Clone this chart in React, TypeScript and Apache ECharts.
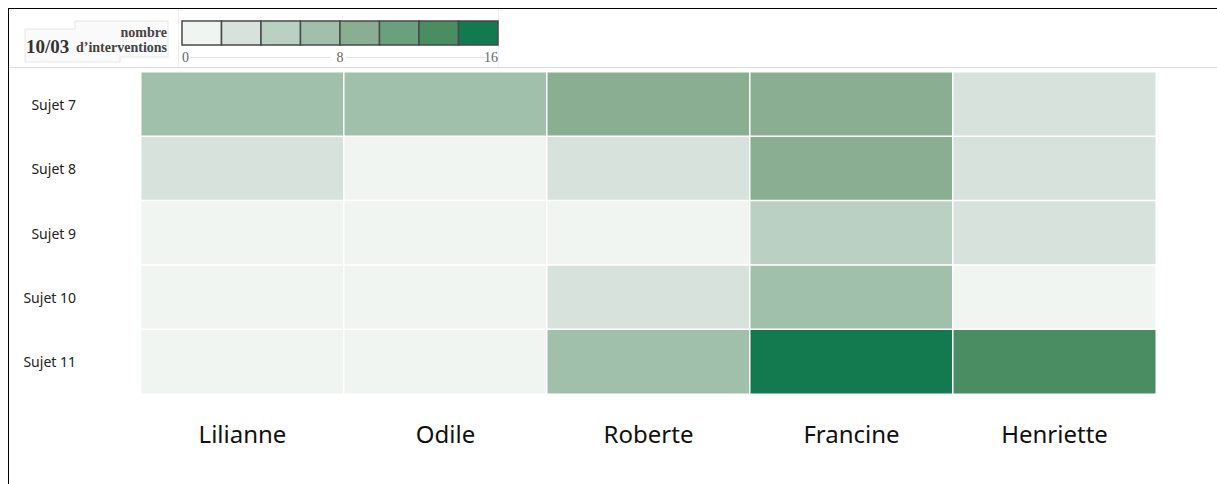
import React, { useEffect, useRef } from "react";
import * as echarts from "echarts";

const people = ["Lilianne", "Odile", "Roberte", "Francine", "Henriette"];
const subjects = ["Sujet 7", "Sujet 8", "Sujet 9", "Sujet 10", "Sujet 11"];
// values per subject (row), one per person (column)
const sujet7 = [7, 7, 9, 9, 3];
const sujet8 = [3, 1, 3, 9, 3];
const sujet9 = [1, 1, 1, 5, 3];
const sujet10 = [1, 1, 3, 7, 1];
const sujet11 = [1, 1, 7, 15, 13];
const rows = [sujet7, sujet8, sujet9, sujet10, sujet11];

const scaleColors = ["#f0f5f1", "#d7e2dc", "#b9d0c3", "#a1c0ab", "#89ae92", "#6aa17c", "#4b8d63", "#127a4e"];
const scaleMin = 0;
const scaleMax = 16;
const scaleTicks = [0, 8, 16];
const dateLabel = "10/03";
const legendTitle = ["nombre", "d\u2019interventions"];

export default function App() {
  const ref = useRef<HTMLDivElement>(null);
  useEffect(() => {
    if (!ref.current) return;
    const chart = echarts.init(ref.current, null, { renderer: "svg" });
    const data: number[][] = [];
    rows.forEach((r, yi) => r.forEach((v, xi) => data.push([xi, yi, v])));
    const step = (scaleMax - scaleMin) / scaleColors.length;
    const pieces = scaleColors.map((c, i) => ({ gte: scaleMin + i * step, lt: scaleMin + (i + 1) * step + (i === scaleColors.length - 1 ? 0.001 : 0), color: c }));

    const barX = 182, barY = 21, barW = 316, barH = 24;
    const cellW = barW / scaleColors.length;
    const legendRects = scaleColors.map((c, i) => ({
      type: "rect",
      shape: { x: barX + i * cellW, y: barY, width: cellW, height: barH },
      style: { fill: c, stroke: "#4a4a4a", lineWidth: 1.5 },
    }));
    const tickTexts = scaleTicks.map((t) => {
      const x = barX + ((t - scaleMin) / (scaleMax - scaleMin)) * barW;
      return {
        type: "text",
        x,
        y: 57,
        style: {
          text: String(t),
          fontFamily: "Liberation Serif",
          fontSize: 14,
          fill: "#666",
          align: t === scaleMin ? "left" : t === scaleMax ? "right" : "center",
          verticalAlign: "middle",
        },
        z: 10,
      };
    });

    chart.setOption({
      animation: false,
      backgroundColor: "#fff",
      grid: { left: 141, right: 61, top: 72, bottom: 90 },
      xAxis: {
        type: "category",
        data: people,
        axisLine: { show: false },
        axisTick: { show: false },
        splitLine: { show: false },
        axisLabel: { fontFamily: "Noto Sans", fontSize: 24, color: "#111", margin: 27 },
      },
      yAxis: {
        type: "category",
        data: subjects,
        inverse: true,
        axisLine: { show: false },
        axisTick: { show: false },
        splitLine: { show: false },
        axisLabel: { fontFamily: "Noto Sans", fontSize: 14, color: "#222", margin: 65 },
      },
      visualMap: { type: "piecewise", show: false, dimension: 2, pieces },
      series: [
        {
          type: "heatmap",
          data,
          itemStyle: { borderColor: "#fff", borderWidth: 1.5 },
          emphasis: { disabled: true },
        },
      ],
      graphic: [
        { type: "line", shape: { x1: 8, y1: 8.5, x2: 1217, y2: 8.5 }, style: { stroke: "#000", lineWidth: 1 } },
        { type: "line", shape: { x1: 8.5, y1: 8, x2: 8.5, y2: 484 }, style: { stroke: "#000", lineWidth: 1 } },
        { type: "line", shape: { x1: 9, y1: 67.5, x2: 1217, y2: 67.5 }, style: { stroke: "#ddd", lineWidth: 1 } },
        { type: "line", shape: { x1: 178.5, y1: 9, x2: 178.5, y2: 67 }, style: { stroke: "#eee", lineWidth: 1 } },
        { type: "line", shape: { x1: 498.5, y1: 9, x2: 498.5, y2: 67 }, style: { stroke: "#eee", lineWidth: 1 } },
        { type: "line", shape: { x1: 190, y1: 57.5, x2: 330, y2: 57.5 }, style: { stroke: "#e2e2e2", lineWidth: 1 } },
        { type: "line", shape: { x1: 346, y1: 57.5, x2: 486, y2: 57.5 }, style: { stroke: "#e2e2e2", lineWidth: 1 } },
        {
          type: "polygon",
          shape: { points: [[25, 29], [75, 29], [75, 21], [168, 21], [168, 57], [120, 57], [120, 62], [25, 62]] },
          style: { fill: "#fafafa", stroke: "#e6e6e6", lineWidth: 1 },
        },
        {
          type: "text",
          x: 26,
          y: 46,
          style: { text: dateLabel, fontFamily: "Liberation Serif", fontWeight: "bold", fontSize: 19, fill: "#333", verticalAlign: "middle" },
        },
        {
          type: "text",
          x: 167,
          y: 32,
          style: { text: legendTitle[0], fontFamily: "Liberation Serif", fontWeight: "bold", fontSize: 14, fill: "#444", align: "right", verticalAlign: "middle" },
        },
        {
          type: "text",
          x: 167,
          y: 47,
          style: { text: legendTitle[1], fontFamily: "Liberation Serif", fontWeight: "bold", fontSize: 14, fill: "#444", align: "right", verticalAlign: "middle" },
        },
        ...legendRects,
        ...tickTexts,
      ],
    });
    return () => chart.dispose();
  }, []);
  return <div ref={ref} style={{ position: "absolute", left: 0, top: 0, width: 1217, height: 484 }} />;
}
